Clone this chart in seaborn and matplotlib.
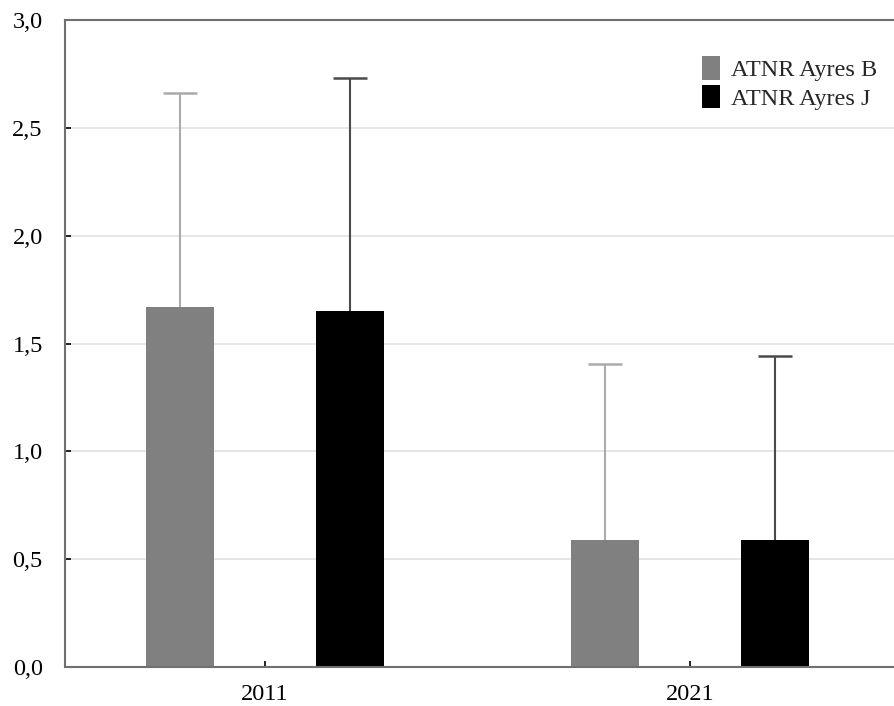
import matplotlib
matplotlib.use("Agg")
import matplotlib.pyplot as plt
import seaborn as sns
import pandas as pd

years = ["2011", "2021"]
groups = ["ATNR Ayres B", "ATNR Ayres J"]
means_b = [1.67, 0.59]
means_j = [1.65, 0.59]
upper_b = [2.66, 1.405]
upper_j = [2.73, 1.44]
y_ticks = [0.0, 0.5, 1.0, 1.5, 2.0, 2.5, 3.0]
y_tick_labels = ["0,0", "0,5", "1,0", "1,5", "2,0", "2,5", "3,0"]

sns.set_theme(style="white")
plt.rcParams["font.family"] = ["Liberation Serif", "DejaVu Serif"]

df = pd.DataFrame({
    "year": years * 2,
    "group": [groups[0]] * 2 + [groups[1]] * 2,
    "value": means_b + means_j,
    "upper": upper_b + upper_j,
})

fig = plt.figure(figsize=(8.94, 7.06), dpi=100)
ax = fig.add_axes([65 / 894, 39 / 706, 829 / 894, 647 / 706])

palette = {groups[0]: "#808080", groups[1]: "#000000"}
sns.barplot(data=df, x="year", y="value", hue="group", order=years,
            hue_order=groups, palette=palette, gap=0.6, errorbar=None,
            saturation=1, linewidth=0, ax=ax)

# Upper whiskers with a cap, drawn from each bar's top
err_colors = {groups[0]: "#ababab", groups[1]: "#4a4a4a"}
cap_half = 0.04
for container, g in zip(ax.containers, groups):
    sub = df[df["group"] == g].set_index("year").loc[years]
    for bar, val, up in zip(container, sub["value"], sub["upper"]):
        xc = bar.get_x() + bar.get_width() / 2
        ax.vlines(xc, val, up, colors=err_colors[g], linewidth=1.5, zorder=1)
        ax.hlines(up, xc - cap_half, xc + cap_half, colors=err_colors[g],
                  linewidth=1.8, zorder=1)

ax.set_xlim(-0.4706, 1.48)
ax.set_ylim(0, 3.0)
ax.set_yticks(y_ticks)
ax.set_yticklabels(y_tick_labels)
ax.yaxis.grid(True, color="#e2e2e2", linewidth=1.2)
ax.set_axisbelow(True)
ax.set_xlabel("")
ax.set_ylabel("")

for side in ["left", "bottom", "top"]:
    ax.spines[side].set_visible(True)
    ax.spines[side].set_color("#707070")
    ax.spines[side].set_linewidth(1.5)
ax.spines["right"].set_visible(False)

ax.tick_params(axis="both", direction="in", length=4, width=1.2,
               colors="#000000", labelsize=17.5, labelcolor="#000000")
ax.tick_params(axis="x", pad=12, bottom=True)
ax.tick_params(axis="y", pad=16, left=True)

leg = ax.legend(loc="upper right", bbox_to_anchor=(1.0, 0.97), frameon=False,
                fontsize=17.5, handlelength=0.75, handleheight=1.1,
                handletextpad=0.45, labelspacing=0.15, borderaxespad=0.3)

fig.savefig("out.png", dpi=100, facecolor="white")
